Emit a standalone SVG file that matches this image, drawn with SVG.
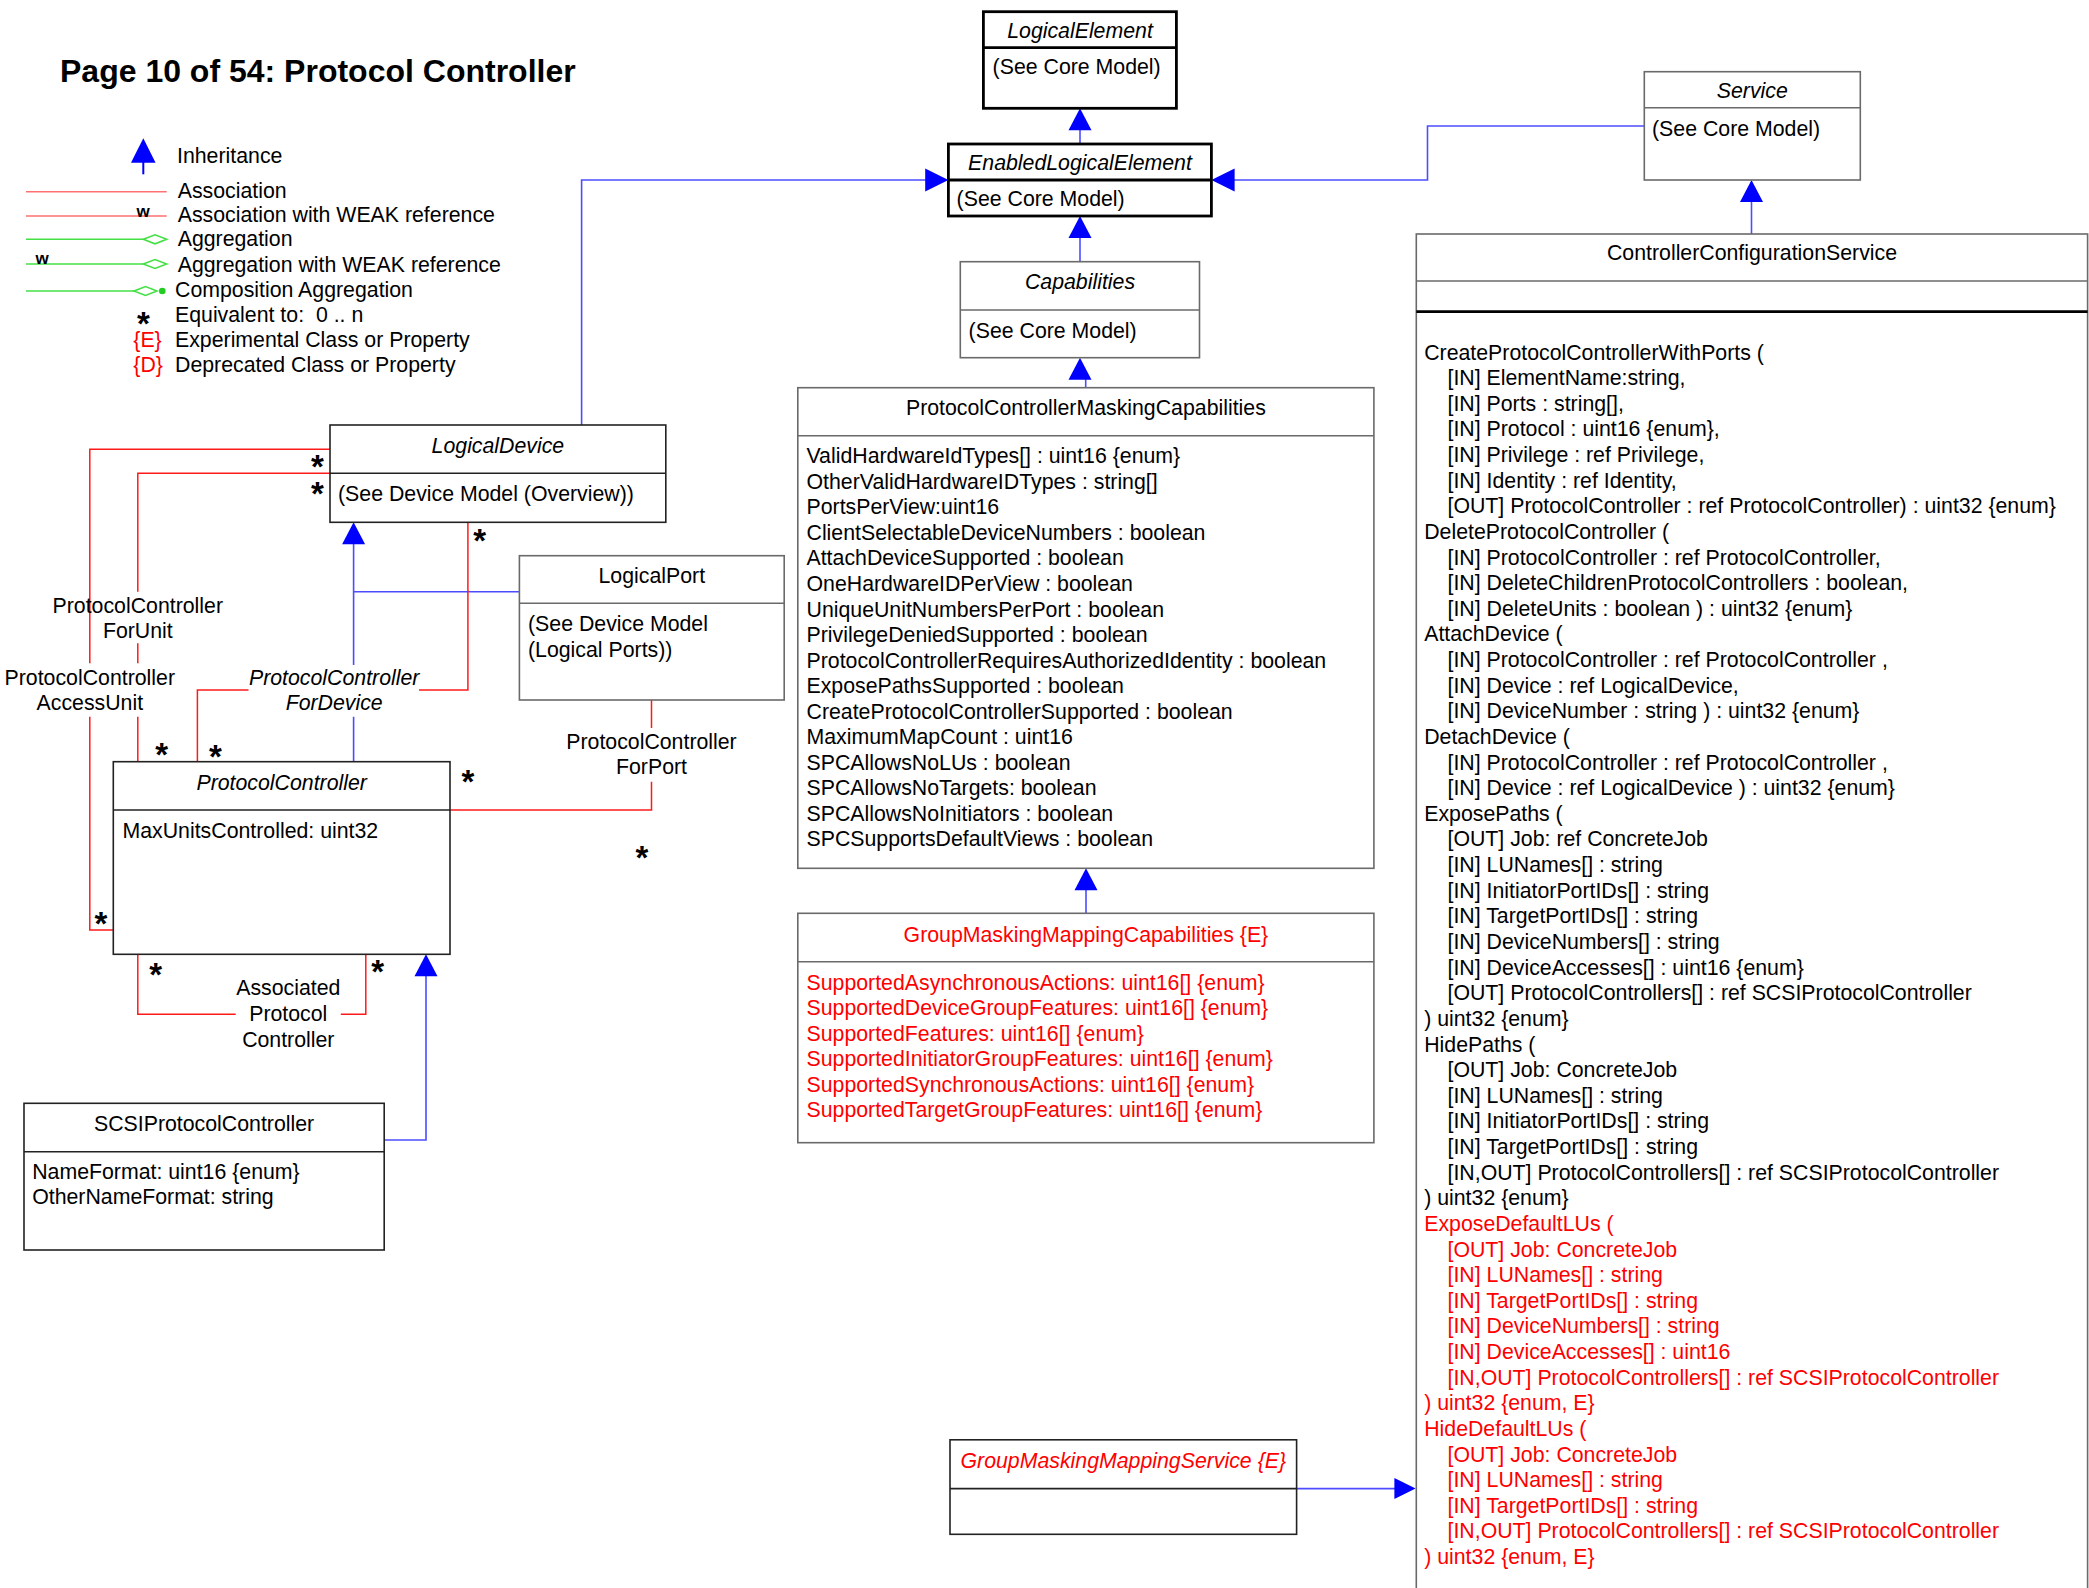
<svg xmlns="http://www.w3.org/2000/svg" width="2089" height="1588" viewBox="0 0 2089 1588">
<style>
text{font-family:"Liberation Sans",Arial,sans-serif;font-size:21.3px;fill:#000}
.t{font-size:32px;font-weight:bold}
.i{font-style:italic}
.r{fill:#ff0000}
.c{text-anchor:middle}
.st{font-size:33px;font-weight:bold;text-anchor:middle}
.w{font-size:17px;font-weight:bold}
.box{fill:#fff;stroke:#6a6a6a;stroke-width:1.6}
.boxk{fill:#fff;stroke:#222;stroke-width:1.6}
.boxb{fill:#fff;stroke:#000;stroke-width:2.8}
.dv{stroke:#6a6a6a;stroke-width:1.6}
.dvk{stroke:#222;stroke-width:1.6}
.dvb{stroke:#000;stroke-width:2.8}
.assoc{fill:none;stroke:#ff1a1a;stroke-width:1.5}
.inh{fill:none;stroke:#4d4dff;stroke-width:1.6}
.ah{fill:#0000ff}
.la{stroke:#ff7070;stroke-width:1.6}
.lg{stroke:#44e044;stroke-width:1.6;fill:none}
</style>
<defs>
<path id="ahU" class="ah" d="M0 0 L-11.5 22 L11.5 22 Z"/>
</defs>
<rect width="2089" height="1588" fill="#fff"/>

<text id="title" class="t" x="60" y="82">Page 10 of 54: Protocol Controller</text>

<g id="legend">
<path class="ah" d="M143.3 138.3 L131 162.7 L155.6 162.7 Z"/>
<line x1="143.3" y1="160" x2="143.3" y2="174.3" stroke="#0000ff" stroke-width="2"/>
<text x="177" y="162.5">Inheritance</text>
<line class="la" x1="26" y1="191.7" x2="166.7" y2="191.7"/>
<text x="177.7" y="198.3">Association</text>
<line class="la" x1="26" y1="216" x2="166.7" y2="216"/>
<text class="w" x="136.5" y="216.5">w</text>
<text x="177.7" y="221.8">Association with WEAK reference</text>
<line class="lg" x1="26" y1="239.3" x2="143.3" y2="239.3"/>
<path class="lg" d="M143.3 239.3 L155 234.8 L166.7 239.3 L155 243.8 Z"/>
<text x="177.7" y="246.3">Aggregation</text>
<line class="lg" x1="26" y1="264" x2="143.3" y2="264"/>
<path class="lg" d="M143.3 264 L155 259.5 L166.7 264 L155 268.5 Z"/>
<text class="w" x="35.5" y="264">w</text>
<text x="177.7" y="271.8">Aggregation with WEAK reference</text>
<line class="lg" x1="26" y1="291" x2="134" y2="291"/>
<path class="lg" d="M134 291 L145.5 286.5 L157 291 L145.5 295.5 Z"/>
<circle cx="162.3" cy="291" r="3.3" fill="#22cc22"/>
<text x="175" y="296.7">Composition Aggregation</text>
<text class="st" x="143.3" y="335">*</text>
<text x="175" y="321.8" xml:space="preserve">Equivalent to:  0 .. n</text>
<text class="r" x="133.3" y="347">{E}</text>
<text x="175" y="347">Experimental Class or Property</text>
<text class="r" x="133.3" y="372">{D}</text>
<text x="175" y="372">Deprecated Class or Property</text>
</g>

<g id="connectors">
<!-- inheritance -->
<path class="inh" d="M1080 144 V128"/>
<use href="#ahU" x="1080" y="108.3"/>
<path class="inh" d="M1080 261.7 V236"/>
<use href="#ahU" x="1080" y="216"/>
<path class="inh" d="M1085.7 378 V387.7"/>
<use href="#ahU" x="1080" y="357.7"/>
<path class="inh" d="M1086 888 V913.3"/>
<use href="#ahU" x="1086" y="868.3"/>
<path class="inh" d="M581.6 425 V180 H927"/>
<path class="ah" d="M948.4 180 L925.2 168.5 L925.2 191.5 Z"/>
<path class="inh" d="M1644.3 126 H1427.5 V180 H1233"/>
<path class="ah" d="M1211.4 180 L1234.6 168.5 L1234.6 191.5 Z"/>
<path class="inh" d="M1751.5 234 V200"/>
<use href="#ahU" x="1751.5" y="180"/>
<path class="inh" d="M1296.6 1488.6 H1396"/>
<path class="ah" d="M1415.6 1488.6 L1394.4 1478 L1394.4 1499 Z"/>
<path class="inh" d="M353.6 761.7 V716.7 M353.6 665 V543"/>
<use href="#ahU" x="353.6" y="522.3"/>
<path class="inh" d="M519.4 591.7 H353.6"/>
<path class="inh" d="M384.2 1140 H426 V975"/>
<use href="#ahU" x="426" y="954.3"/>
<!-- associations -->
<path class="assoc" d="M330 449.3 H89.8 V663.3 M89.8 716.7 V930 H113.3"/>
<path class="assoc" d="M330 473.3 H137.8 V591.7 M137.8 643.3 V663.3 M137.8 716.7 V761.7"/>
<path class="assoc" d="M467.9 522.3 V690 H419 M248.5 690 H197.4 V761.7"/>
<path class="assoc" d="M651.5 700 V728 M651.5 781.7 V810 H450"/>
<path class="assoc" d="M137.8 954.3 V1014.3 H235.7 M340.8 1014.3 H365.8 V954.3"/>
<!-- labels -->
<text class="c" x="137.8" y="612.8">ProtocolController</text>
<text class="c" x="137.8" y="638">ForUnit</text>
<text class="c" x="89.8" y="684.5">ProtocolController</text>
<text class="c" x="89.8" y="709.5">AccessUnit</text>
<text class="c i" x="334.2" y="684.5">ProtocolController</text>
<text class="c i" x="334.2" y="709.5">ForDevice</text>
<text class="c" x="651.5" y="749">ProtocolController</text>
<text class="c" x="651.5" y="774">ForPort</text>
<text class="c" x="288.3" y="994.7">Associated</text>
<text class="c" x="288.3" y="1020.5">Protocol</text>
<text class="c" x="288.3" y="1046.5">Controller</text>
<!-- multiplicities -->
<text class="st" x="317.3" y="477.9">*</text>
<text class="st" x="317.3" y="504.5">*</text>
<text class="st" x="479.6" y="552.2">*</text>
<text class="st" x="161.7" y="766.2">*</text>
<text class="st" x="215.3" y="767.9">*</text>
<text class="st" x="467.9" y="792.9">*</text>
<text class="st" x="641.8" y="869.2">*</text>
<text class="st" x="101" y="934.5">*</text>
<text class="st" x="155.6" y="985.5">*</text>
<text class="st" x="377.6" y="982.9">*</text>
</g>

<g id="LogicalElement">
<rect class="boxb" x="983.4" y="11.7" width="193" height="96.6"/>
<line class="dvb" x1="983.4" y1="47.7" x2="1176.4" y2="47.7"/>
<text class="c i" x="1080" y="38.3">LogicalElement</text>
<text x="992.6" y="74.2">(See Core Model)</text>
</g>

<g id="EnabledLogicalElement">
<rect class="boxb" x="948.4" y="144" width="263" height="72"/>
<line class="dvb" x1="948.4" y1="180" x2="1211.4" y2="180"/>
<text class="c i" x="1080" y="170.1">EnabledLogicalElement</text>
<text x="956.6" y="206.1">(See Core Model)</text>
</g>

<g id="Service">
<rect class="box" x="1644.3" y="71.7" width="216" height="108.3"/>
<line class="dv" x1="1644.3" y1="107.7" x2="1860.3" y2="107.7"/>
<text class="c i" x="1752.3" y="98.2">Service</text>
<text x="1652" y="135.5">(See Core Model)</text>
</g>

<g id="Capabilities">
<rect class="box" x="960.3" y="261.7" width="239.2" height="96"/>
<line class="dv" x1="960.3" y1="310" x2="1199.5" y2="310"/>
<text class="c i" x="1080" y="288.5">Capabilities</text>
<text x="968.6" y="338">(See Core Model)</text>
</g>

<g id="ProtocolControllerMaskingCapabilities">
<rect class="box" x="797.8" y="387.7" width="576.1" height="480.6"/>
<line class="dv" x1="797.8" y1="435.7" x2="1373.9" y2="435.7"/>
<text class="c" x="1085.9" y="415.3">ProtocolControllerMaskingCapabilities</text>
<text x="806.5" y="463.2">ValidHardwareIdTypes[] : uint16 {enum}<tspan x="806.5" dy="25.55">OtherValidHardwareIDTypes : string[]</tspan><tspan x="806.5" dy="25.55">PortsPerView:uint16</tspan><tspan x="806.5" dy="25.55">ClientSelectableDeviceNumbers : boolean</tspan><tspan x="806.5" dy="25.55">AttachDeviceSupported : boolean</tspan><tspan x="806.5" dy="25.55">OneHardwareIDPerView : boolean</tspan><tspan x="806.5" dy="25.55">UniqueUnitNumbersPerPort : boolean</tspan><tspan x="806.5" dy="25.55">PrivilegeDeniedSupported : boolean</tspan><tspan x="806.5" dy="25.55">ProtocolControllerRequiresAuthorizedIdentity : boolean</tspan><tspan x="806.5" dy="25.55">ExposePathsSupported : boolean</tspan><tspan x="806.5" dy="25.55">CreateProtocolControllerSupported : boolean</tspan><tspan x="806.5" dy="25.55">MaximumMapCount : uint16</tspan><tspan x="806.5" dy="25.55">SPCAllowsNoLUs : boolean</tspan><tspan x="806.5" dy="25.55">SPCAllowsNoTargets: boolean</tspan><tspan x="806.5" dy="25.55">SPCAllowsNoInitiators : boolean</tspan><tspan x="806.5" dy="25.55">SPCSupportsDefaultViews : boolean</tspan></text>
</g>

<g id="GroupMaskingMappingCapabilities">
<rect class="box" x="797.8" y="913.3" width="576.1" height="229.4"/>
<line class="dv" x1="797.8" y1="961.7" x2="1373.9" y2="961.7"/>
<text class="c r" x="1085.9" y="941.6">GroupMaskingMappingCapabilities {E}</text>
<text class="r" x="806.5" y="989.5">SupportedAsynchronousActions: uint16[] {enum}<tspan x="806.5" dy="25.55">SupportedDeviceGroupFeatures: uint16[] {enum}</tspan><tspan x="806.5" dy="25.55">SupportedFeatures: uint16[] {enum}</tspan><tspan x="806.5" dy="25.55">SupportedInitiatorGroupFeatures: uint16[] {enum}</tspan><tspan x="806.5" dy="25.55">SupportedSynchronousActions: uint16[] {enum}</tspan><tspan x="806.5" dy="25.55">SupportedTargetGroupFeatures: uint16[] {enum}</tspan></text>
</g>

<g id="GroupMaskingMappingService">
<rect class="boxk" x="950" y="1439.8" width="346.6" height="94.5"/>
<line class="dvk" x1="950" y1="1488.6" x2="1296.6" y2="1488.6"/>
<text class="c i r" x="1123.3" y="1467.5">GroupMaskingMappingService {E}</text>
</g>

<g id="ControllerConfigurationService">
<rect class="box" x="1416.3" y="234" width="671.3" height="1380"/>
<line class="dv" x1="1416.3" y1="281" x2="2087.6" y2="281"/>
<line class="dvb" x1="1416.3" y1="311.7" x2="2087.6" y2="311.7"/>
<text class="c" x="1752" y="260">ControllerConfigurationService</text>
<text x="1424.2" y="359.5">CreateProtocolControllerWithPorts (<tspan x="1447.5" dy="25.63">[IN] ElementName:string,</tspan><tspan x="1447.5" dy="25.63">[IN] Ports : string[],</tspan><tspan x="1447.5" dy="25.63">[IN] Protocol : uint16 {enum},</tspan><tspan x="1447.5" dy="25.63">[IN] Privilege : ref Privilege,</tspan><tspan x="1447.5" dy="25.63">[IN] Identity : ref Identity,</tspan><tspan x="1447.5" dy="25.63">[OUT] ProtocolController : ref ProtocolController) : uint32 {enum}</tspan><tspan x="1424.2" dy="25.63">DeleteProtocolController (</tspan><tspan x="1447.5" dy="25.63">[IN] ProtocolController : ref ProtocolController,</tspan><tspan x="1447.5" dy="25.63">[IN] DeleteChildrenProtocolControllers : boolean,</tspan><tspan x="1447.5" dy="25.63">[IN] DeleteUnits : boolean ) : uint32 {enum}</tspan><tspan x="1424.2" dy="25.63">AttachDevice (</tspan><tspan x="1447.5" dy="25.63">[IN] ProtocolController : ref ProtocolController ,</tspan><tspan x="1447.5" dy="25.63">[IN] Device : ref LogicalDevice,</tspan><tspan x="1447.5" dy="25.63">[IN] DeviceNumber : string ) : uint32 {enum}</tspan><tspan x="1424.2" dy="25.63">DetachDevice (</tspan><tspan x="1447.5" dy="25.63">[IN] ProtocolController : ref ProtocolController ,</tspan><tspan x="1447.5" dy="25.63">[IN] Device : ref LogicalDevice ) : uint32 {enum}</tspan><tspan x="1424.2" dy="25.63">ExposePaths (</tspan><tspan x="1447.5" dy="25.63">[OUT] Job: ref ConcreteJob</tspan><tspan x="1447.5" dy="25.63">[IN] LUNames[] : string</tspan><tspan x="1447.5" dy="25.63">[IN] InitiatorPortIDs[] : string</tspan><tspan x="1447.5" dy="25.63">[IN] TargetPortIDs[] : string</tspan><tspan x="1447.5" dy="25.63">[IN] DeviceNumbers[] : string</tspan><tspan x="1447.5" dy="25.63">[IN] DeviceAccesses[] : uint16 {enum}</tspan><tspan x="1447.5" dy="25.63">[OUT] ProtocolControllers[] : ref SCSIProtocolController</tspan><tspan x="1424.2" dy="25.63">) uint32 {enum}</tspan><tspan x="1424.2" dy="25.63">HidePaths (</tspan><tspan x="1447.5" dy="25.63">[OUT] Job: ConcreteJob</tspan><tspan x="1447.5" dy="25.63">[IN] LUNames[] : string</tspan><tspan x="1447.5" dy="25.63">[IN] InitiatorPortIDs[] : string</tspan><tspan x="1447.5" dy="25.63">[IN] TargetPortIDs[] : string</tspan><tspan x="1447.5" dy="25.63">[IN,OUT] ProtocolControllers[] : ref SCSIProtocolController</tspan><tspan x="1424.2" dy="25.63">) uint32 {enum}</tspan><tspan class="r" x="1424.2" dy="25.63">ExposeDefaultLUs (</tspan><tspan class="r" x="1447.5" dy="25.63">[OUT] Job: ConcreteJob</tspan><tspan class="r" x="1447.5" dy="25.63">[IN] LUNames[] : string</tspan><tspan class="r" x="1447.5" dy="25.63">[IN] TargetPortIDs[] : string</tspan><tspan class="r" x="1447.5" dy="25.63">[IN] DeviceNumbers[] : string</tspan><tspan class="r" x="1447.5" dy="25.63">[IN] DeviceAccesses[] : uint16</tspan><tspan class="r" x="1447.5" dy="25.63">[IN,OUT] ProtocolControllers[] : ref SCSIProtocolController</tspan><tspan class="r" x="1424.2" dy="25.63">) uint32 {enum, E}</tspan><tspan class="r" x="1424.2" dy="25.63">HideDefaultLUs (</tspan><tspan class="r" x="1447.5" dy="25.63">[OUT] Job: ConcreteJob</tspan><tspan class="r" x="1447.5" dy="25.63">[IN] LUNames[] : string</tspan><tspan class="r" x="1447.5" dy="25.63">[IN] TargetPortIDs[] : string</tspan><tspan class="r" x="1447.5" dy="25.63">[IN,OUT] ProtocolControllers[] : ref SCSIProtocolController</tspan><tspan class="r" x="1424.2" dy="25.63">) uint32 {enum, E}</tspan></text>
</g>

<g id="LogicalDevice">
<rect class="boxk" x="330" y="425" width="335.8" height="97.3"/>
<line class="dvk" x1="330" y1="473.3" x2="665.8" y2="473.3"/>
<text class="c i" x="497.9" y="452.6">LogicalDevice</text>
<text x="338" y="500.6">(See Device Model (Overview))</text>
</g>

<g id="LogicalPort">
<rect class="box" x="519.4" y="555.7" width="264.8" height="144.3"/>
<line class="dv" x1="519.4" y1="603.3" x2="784.2" y2="603.3"/>
<text class="c" x="651.8" y="583.2">LogicalPort</text>
<text x="528" y="631">(See Device Model<tspan x="528" dy="25.6">(Logical Ports))</tspan></text>
</g>

<g id="ProtocolController">
<rect class="boxk" x="113.3" y="761.7" width="336.7" height="192.6"/>
<line class="dvk" x1="113.3" y1="810" x2="450" y2="810"/>
<text class="c i" x="281.7" y="789.8">ProtocolController</text>
<text x="122.5" y="837.5">MaxUnitsControlled: uint32</text>
</g>

<g id="SCSIProtocolController">
<rect class="boxk" x="24" y="1103.3" width="360.2" height="146.7"/>
<line class="dvk" x1="24" y1="1151.7" x2="384.2" y2="1151.7"/>
<text class="c" x="204.1" y="1131.2">SCSIProtocolController</text>
<text x="32.2" y="1179">NameFormat: uint16 {enum}<tspan x="32.2" dy="25">OtherNameFormat: string</tspan></text>
</g>
</svg>
